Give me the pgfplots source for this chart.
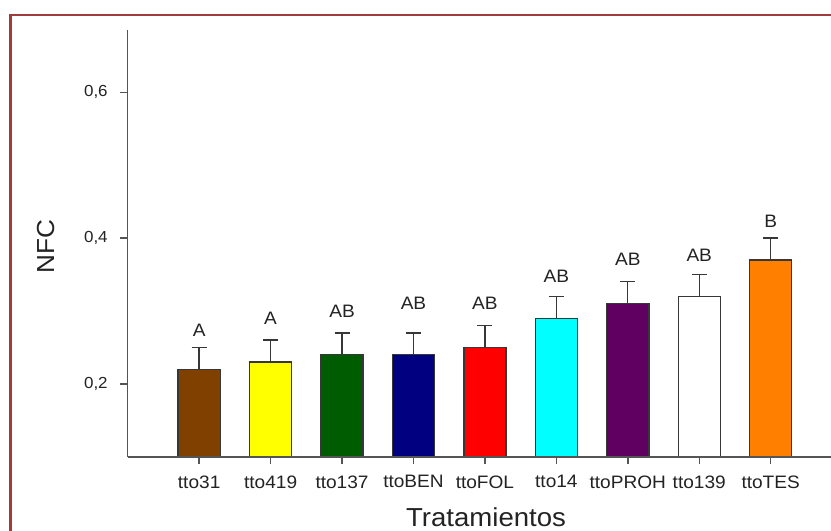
\documentclass[border=0pt]{standalone}
\usepackage{fontspec}
\setmainfont{Liberation Sans}[FakeStretch=1.06]
\usepackage{pgfplots}
\usepackage{pgfplotstable}
\pgfplotsset{compat=1.18}

\definecolor{framered}{RGB}{160,60,60}
\definecolor{axisgray}{RGB}{85,85,85}
\definecolor{edgegray}{RGB}{55,55,55}
\definecolor{labelgray}{RGB}{35,35,35}
\definecolor{c31}{RGB}{128,64,0}
\definecolor{c419}{RGB}{255,255,0}
\definecolor{c137}{RGB}{0,92,0}
\definecolor{cBEN}{RGB}{0,0,128}
\definecolor{cFOL}{RGB}{255,0,0}
\definecolor{c14}{RGB}{0,255,255}
\definecolor{cPROH}{RGB}{96,0,96}
\definecolor{c139}{RGB}{255,255,255}
\definecolor{cTES}{RGB}{255,128,0}

% Tukey grouping letters: position x, height y, letters
\pgfplotstableread{
x y lab
0 0.274 A
1 0.290 A
2 0.300 AB
3 0.311 AB
4 0.311 AB
5 0.348 AB
6 0.371 AB
7 0.376 AB
8 0.4225 B
}\letters

\pgfplotsset{
  nfcbar/.style={ybar, bar width=0.59, bar shift=0pt,
    draw=edgegray, line width=1.0pt, fill=#1,
    error bars/.cd, y dir=plus, y explicit,
    error bar style={edgegray, line width=1.0pt},
    error mark options={rotate=90, mark size=5.6pt, edgegray, line width=1.0pt}},
}

\begin{document}
\begin{tikzpicture}
\path[use as bounding box] (0,0) rectangle (623.25pt,-398.25pt);
\clip (0,0) rectangle (623.25pt,-398.25pt);
\fill[white] (0,0) rectangle (623.25pt,-398.25pt);
\draw[framered, line width=1.8pt] (8.0pt,-11.25pt) rectangle (700pt,-450pt);
\begin{axis}[
  at={(95.78pt,-342.6pt)}, anchor=south west,
  scale only axis, width=527.5pt, height=319.9pt,
  xmin=-1, xmax=8.845, ymin=0.1, ymax=0.685,
  axis x line*=bottom, axis y line*=left,
  axis line style={axisgray, line width=1.1pt},
  axis on top,
  tick align=outside,
  major tick length=5.5pt,
  every tick/.style={draw=axisgray, line width=1.1pt},
  xtick={0,...,8},
  xticklabels={tto31,tto419,tto137,ttoBEN,ttoFOL,tto14,ttoPROH,tto139,ttoTES},
  ytick={0.2,0.4,0.6},
  yticklabels={{0,2},{0,4},{0,6}},
  minor tick num=0,
  xticklabel style={font=\fontsize{13.5}{15}\selectfont, text=labelgray, yshift=-5pt},
  yticklabel style={font=\fontsize{12}{14}\selectfont, text=labelgray, xshift=-6pt},
  xlabel={Tratamientos},
  xlabel style={at={(axis description cs:0.5095,-0.1412)}, anchor=center,
    font=\fontsize{19.5}{22}\selectfont, text=labelgray},
  ylabel={NFC},
  ylabel style={at={(axis description cs:-0.1155,0.493)}, anchor=center,
    font=\fontsize{18.5}{20}\selectfont, text=labelgray},
]
\addplot[nfcbar=c31]   coordinates {(0,0.22) +- (0,0.03)};
\addplot[nfcbar=c419]  coordinates {(1,0.23) +- (0,0.03)};
\addplot[nfcbar=c137]  coordinates {(2,0.24) +- (0,0.03)};
\addplot[nfcbar=cBEN]  coordinates {(3,0.24) +- (0,0.03)};
\addplot[nfcbar=cFOL]  coordinates {(4,0.25) +- (0,0.03)};
\addplot[nfcbar=c14]   coordinates {(5,0.29) +- (0,0.03)};
\addplot[nfcbar=cPROH] coordinates {(6,0.31) +- (0,0.03)};
\addplot[nfcbar=c139]  coordinates {(7,0.32) +- (0,0.03)};
\addplot[nfcbar=cTES]  coordinates {(8,0.37) +- (0,0.03)};
\addplot[draw=none, mark=none, nodes near coords, point meta=explicit symbolic,
  every node near coord/.style={anchor=center, inner sep=0pt,
    font=\fontsize{13.5}{15}\selectfont, text=labelgray}]
  table[x=x, y=y, meta=lab] {\letters};
\end{axis}
\end{tikzpicture}
\end{document}
